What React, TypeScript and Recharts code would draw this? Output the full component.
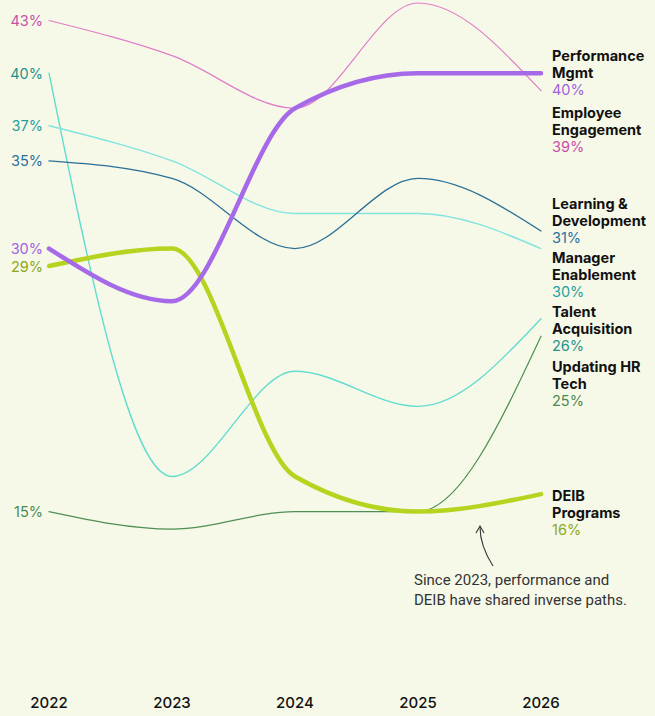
import React from "react";
import { LineChart, Line, XAxis, YAxis, LabelList } from "recharts";

const years = ["2022", "2023", "2024", "2025", "2026"];

const performanceMgmt = [30, 27, 38, 40, 40];
const employeeEngagement = [43, 41, 38, 44, 39];
const learningDev = [35, 34, 30, 34, 31];
const managerEnablement = [37, 35, 32, 32, 30];
const talentAcquisition = [40, 17, 23, 21, 26];
const updatingHrTech = [15, 14, 15, 15, 25];
const deibPrograms = [29, 30, 17, 15, 16];

const data = years.map((year, i) => ({
  year,
  perf: performanceMgmt[i],
  engage: employeeEngagement[i],
  learn: learningDev[i],
  manager: managerEnablement[i],
  talent: talentAcquisition[i],
  hrtech: updatingHrTech[i],
  deib: deibPrograms[i],
}));

type SeriesStyle = {
  key: string;
  name: string[];
  line: string;
  text: string;
  width: number;
  shift: number; // vertical offset of the right label block
};

// drawn back to front
const series: SeriesStyle[] = [
  { key: "hrtech", name: ["Updating HR", "Tech"], line: "#4e8f52", text: "#4c8a55", width: 1.2, shift: 30 },
  { key: "talent", name: ["Talent", "Acquisition"], line: "#62dccf", text: "#1f9488", width: 1.4, shift: -7 },
  { key: "manager", name: ["Manager", "Enablement"], line: "#80e4df", text: "#24a0a0", width: 1.4, shift: 9 },
  { key: "learn", name: ["Learning &", "Development"], line: "#2a6f96", text: "#2b6f9c", width: 1.3, shift: -28 },
  { key: "engage", name: ["Employee", "Engagement"], line: "#e07cc8", text: "#c94fa9", width: 1.2, shift: 22 },
  { key: "deib", name: ["DEIB", "Programs"], line: "#b4d41f", text: "#8ea71c", width: 4.5, shift: 1 },
  { key: "perf", name: ["Performance", "Mgmt"], line: "#a66ae8", text: "#9f62e0", width: 4.5, shift: -18 },
];

const font = "Inter, 'Noto Sans', sans-serif";
const last = years.length - 1;

const makeLabel = (s: SeriesStyle) => (props: any) => {
  const { x, y, index, value } = props;
  if (index === 0) {
    return (
      <text x={x - 6} y={y} textAnchor="end" dominantBaseline="central" fill={s.text} fontSize={14.5} fontFamily={font}>
        {value}%
      </text>
    );
  }
  if (index !== last) return null;
  const top = y + s.shift;
  return (
    <g fontFamily={font} fontSize={14.5}>
      <text x={x + 11} y={top} dominantBaseline="central" fill="#111" fontWeight={700}>{s.name[0]}</text>
      <text x={x + 11} y={top + 17} dominantBaseline="central" fill="#111" fontWeight={700}>{s.name[1]}</text>
      <text x={x + 11} y={top + 34} dominantBaseline="central" fill={s.text}>{value}%</text>
    </g>
  );
};

export default function App() {
  return (
    <div style={{ position: "relative", width: 655, height: 716, background: "#f7f9e8", fontFamily: font }}>
      <style>{`body{margin:0;background:#f7f9e8}`}</style>
      <LineChart width={655} height={716} data={data} margin={{ top: 3, right: 114, bottom: 0, left: 49 }}>
        <XAxis
          dataKey="year"
          axisLine={false}
          tickLine={false}
          tickMargin={4}
          tick={{ fill: "#111", fontSize: 15, fontFamily: font, fontWeight: 500 }}
          interval={0}
          height={29}
        />
        <YAxis hide domain={[5, 44]} width={0} />
        {series.map((s) => (
          <Line
            key={s.key}
            dataKey={s.key}
            type="monotone"
            stroke={s.line}
            strokeWidth={s.width}
            strokeLinecap="round"
            dot={false}
            activeDot={false}
            isAnimationActive={false}
          >
            <LabelList dataKey={s.key} content={makeLabel(s)} />
          </Line>
        ))}
      </LineChart>
      <svg width={655} height={716} style={{ position: "absolute", left: 0, top: 0, pointerEvents: "none" }}>
        <path d="M493,566 C484,552 480,540 480,527" fill="none" stroke="#333" strokeWidth={1.1} />
        <path d="M476,533 L480,526 L484,533" fill="none" stroke="#333" strokeWidth={1.1} />
      </svg>
      <div
        style={{
          position: "absolute",
          left: 414,
          top: 570,
          fontSize: 15,
          lineHeight: "20px",
          color: "#333",
          fontFamily: "Roboto, sans-serif",
        }}
      >
        Since 2023, performance and
        <br />
        DEIB have shared inverse paths.
      </div>
    </div>
  );
}
